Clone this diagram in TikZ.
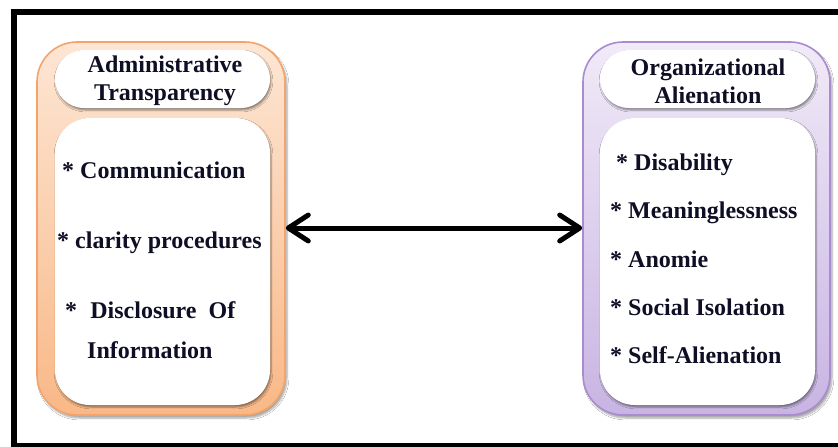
\documentclass[tikz,border=0pt]{standalone}
\usepackage{fontspec}
\setmainfont{Liberation Serif}
\usetikzlibrary{arrows.meta,shadows.blur}
\definecolor{orbd}{HTML}{F4A46A}
\definecolor{ortop}{HTML}{FDE6D4}
\definecolor{orbot}{HTML}{F9B887}
\definecolor{pubd}{HTML}{A98BCF}
\definecolor{putop}{HTML}{F1EAF8}
\definecolor{pubot}{HTML}{C8B4E2}
\definecolor{txt}{HTML}{0E0E24}
\tikzset{
  outerbox/.style={draw, line width=1.6pt, rounded corners=40pt, minimum width=#1, minimum height=373pt,
    blur shadow={shadow xshift=2pt, shadow yshift=-3pt, shadow blur steps=6, shadow opacity=35}},
  headbox/.style={draw=none, fill=white, rounded corners=29pt, minimum width=215pt, minimum height=58pt,
    blur shadow={shadow xshift=1pt, shadow yshift=-2pt, shadow blur steps=4, shadow opacity=45}},
  contentbox/.style={draw=none, fill=white, rounded corners=35pt, minimum width=215pt, minimum height=287pt,
    blur shadow={shadow xshift=1pt, shadow yshift=-2pt, shadow blur steps=4, shadow opacity=45}},
  lbl/.style={text=txt, font=\fontsize{24}{28}\selectfont\bfseries, inner sep=0pt},
  item/.style={lbl, anchor=base west},
  head/.style={lbl, anchor=base},
  link/.style={line width=5pt, {Straight Barb[length=20pt,width=26pt,line width=5pt,round]}-{Straight Barb[length=20pt,width=26pt,line width=5pt,round]}}
}
\begin{document}
\begin{tikzpicture}[x=1pt,y=-1pt]
\useasboundingbox (0,0) rectangle (838,447);
\fill[white] (0,0) rectangle (838,447);
\draw[line width=6pt] (13.5,11.5) rectangle (860,446);
% left
\node[outerbox=248pt, draw=orbd, top color=ortop, bottom color=orbot] (L) at (161,228.5) {};
\node[headbox] (Lh) at (162.5,79) {};
\node[contentbox] (Lc) at (162.5,261.5) {};
\node[head] (lh1) at (165,72) {Administrative};
\node[head] (lh2) at (165,100) {Transparency};
\node[item] (l1) at (62,178) {* Communication};
\node[item] (l2) at (57,248) {* clarity procedures};
\node[item] (l3) at (65,318) {*\hspace{0.55em}Disclosure\hspace{0.5em}Of};
\node[item] (l4) at (87,358) {Information};
% right
\node[outerbox=247pt, draw=pubd, top color=putop, bottom color=pubot] (R) at (706.5,228.5) {};
\node[headbox] (Rh) at (707.5,79) {};
\node[contentbox] (Rc) at (707.5,261.5) {};
\node[head] (rh1) at (708,75) {Organizational};
\node[head] (rh2) at (708,103) {Alienation};
\node[item] (r1) at (616,170) {* Disability};
\node[item] (r2) at (610,218) {* Meaninglessness};
\node[item] (r3) at (610,267) {* Anomie};
\node[item] (r4) at (610,315) {* Social Isolation};
\node[item] (r5) at (610,363) {* Self-Alienation};
% arrow
\draw[link] (L.east |- 0,228) -- (R.west |- 0,228);
\end{tikzpicture}
\end{document}
